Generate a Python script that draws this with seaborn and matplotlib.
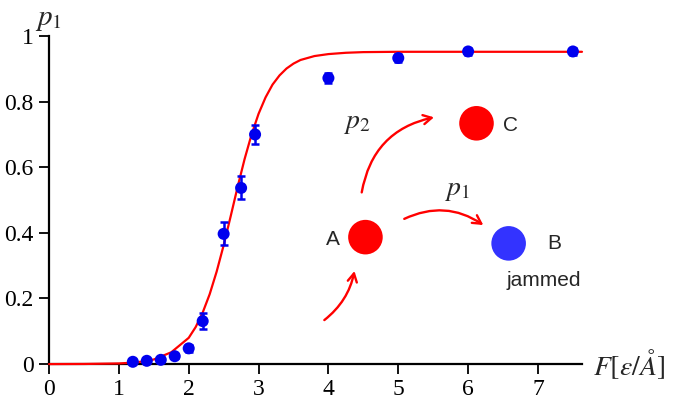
import matplotlib
matplotlib.use("Agg")
import matplotlib.pyplot as plt
import seaborn as sns
import pandas as pd

# measured data
force = [1.2, 1.4, 1.6, 1.8, 2.0, 2.2, 2.5, 2.75, 2.95, 4.0, 5.0, 6.0, 7.5]
p1 = [0.007, 0.010, 0.013, 0.024, 0.048, 0.131, 0.397, 0.537, 0.700, 0.872, 0.933, 0.953, 0.953]
p1_err = [0.004, 0.004, 0.005, 0.006, 0.010, 0.025, 0.035, 0.035, 0.030, 0.015, 0.012, 0.010, 0.010]

# fitted curve
fit_x = [0.0, 0.5, 1.0, 1.25, 1.5, 1.75, 2.0, 2.1, 2.2, 2.3, 2.4, 2.5, 2.6, 2.7, 2.8, 2.9,
         3.0, 3.1, 3.2, 3.3, 3.4, 3.5, 3.6, 3.8, 4.0, 4.25, 4.5, 5.0, 6.0, 7.63]
fit_y = [0.0, 0.0004, 0.002, 0.005, 0.014, 0.036, 0.080, 0.113, 0.157, 0.213, 0.282, 0.362,
         0.450, 0.540, 0.625, 0.700, 0.763, 0.813, 0.852, 0.880, 0.901, 0.916, 0.927, 0.939,
         0.945, 0.949, 0.951, 0.952, 0.952, 0.952]

xticks = [0, 1, 2, 3, 4, 5, 6, 7]
yticks = [0, 0.2, 0.4, 0.6, 0.8, 1]
ytick_labels = ["0", "0.2", "0.4", "0.6", "0.8", "1"]

sns.set_style("ticks")
plt.rcParams["font.family"] = ["Liberation Serif", "DejaVu Serif"]
plt.rcParams["mathtext.fontset"] = "stix"

fig = plt.figure(figsize=(6.75, 4.05), dpi=100)
ax = fig.add_axes([0.0726, 0.101, 0.7896, 0.810])

fit_df = pd.DataFrame({"F": fit_x, "p": fit_y})
data_df = pd.DataFrame({"F": force, "p": p1, "err": p1_err})

sns.lineplot(data=fit_df, x="F", y="p", color="#ff0000", lw=1.6, ax=ax, zorder=3,
             clip_on=False)
ax.errorbar(data_df["F"], data_df["p"], yerr=data_df["err"], fmt="none",
            ecolor="#0000ee", elinewidth=1.8, capsize=3, capthick=1.8, zorder=4,
            clip_on=False)
sns.scatterplot(data=data_df, x="F", y="p", color="#0000ee", s=75, edgecolor="none",
                ax=ax, zorder=5, clip_on=False)

ax.set_xlim(0, 7.63)
ax.set_ylim(0, 1)
ax.set_xticks(xticks)
ax.set_yticks(yticks)
ax.set_yticklabels(ytick_labels)
ax.set_xlabel("")
ax.set_ylabel("")
for s in ["top", "right"]:
    ax.spines[s].set_visible(False)
for s in ["left", "bottom"]:
    ax.spines[s].set_linewidth(1.6)
    ax.spines[s].set_color("black")
ax.tick_params(axis="both", direction="out", length=7, width=1.3, labelsize=17,
               colors="black", pad=4)

# axis labels
ax.text(7.79, 0.0, r"$F[\varepsilon/\mathit{\AA}]$", fontsize=20, ha="left", va="center",
        transform=ax.transData, clip_on=False)
ax.text(-0.01, 1.05, r"$p_{\mathit{1}}$", fontsize=21, ha="center", va="center",
        clip_on=False)

# schematic inset
state_x = [4.53, 6.12, 6.58]
state_y = [0.387, 0.734, 0.368]
state_col = ["#ff0000", "#ff0000", "#3333ff"]
sns.scatterplot(x=state_x, y=state_y, hue=["A", "C", "B"], palette=state_col, s=620,
                edgecolor="none", ax=ax, legend=False, zorder=6)

sans = ["Liberation Sans", "DejaVu Sans"]
ax.text(4.07, 0.380, "A", family=sans, fontsize=15, ha="center", va="center")
ax.text(6.60, 0.728, "C", family=sans, fontsize=15, ha="center", va="center")
ax.text(7.23, 0.369, "B", family=sans, fontsize=15, ha="center", va="center")
ax.text(7.08, 0.256, "jammed", family=sans, fontsize=15, ha="center", va="center")
ax.text(4.41, 0.734, r"$p_2$", fontsize=20, ha="center", va="center")
ax.text(5.84, 0.530, r"$p_1$", fontsize=20, ha="center", va="center")

arrow_kw = dict(arrowstyle="->,head_length=0.6,head_width=0.33", color="#ff0000", lw=1.7)
ax.annotate("", xy=(4.38, 0.292), xytext=(3.91, 0.129),
            arrowprops=dict(connectionstyle="arc3,rad=0.2", **arrow_kw))
ax.annotate("", xy=(5.55, 0.754), xytext=(4.47, 0.515),
            arrowprops=dict(connectionstyle="arc3,rad=-0.35", **arrow_kw))
ax.annotate("", xy=(6.25, 0.419), xytext=(5.05, 0.439),
            arrowprops=dict(connectionstyle="arc3,rad=-0.3", **arrow_kw))

fig.savefig("out.png", dpi=100)
